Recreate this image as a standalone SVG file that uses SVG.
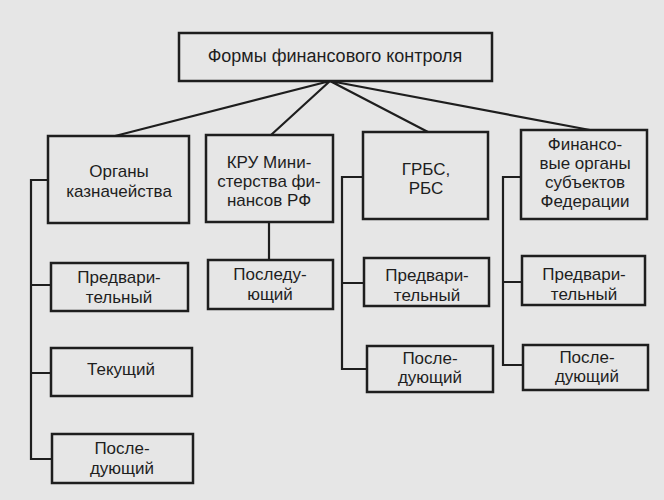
<svg xmlns="http://www.w3.org/2000/svg" width="664" height="500" viewBox="0 0 664 500">
<style>
.bg{fill:#e6e6e6}
.box{fill:none;stroke:#1e1e1e;stroke-width:2.5}
.ln{fill:none;stroke:#1e1e1e;stroke-width:2.2}
text{font-family:"Liberation Sans",Arial,sans-serif;font-size:17px;fill:#1e1e1e;text-anchor:middle}
.t{font-size:18px}
</style>
<rect class="bg" x="0" y="0" width="664" height="500"/>
<g id="connectors">
<path class="ln" d="M330,81 L115,136 M330,81 L271,135 M330,81 L428,132 M330,81 L590,130"/>
<path class="ln" d="M48,180 H31 V459 H52 M31,285 H51 M31,373 H51"/>
<path class="ln" d="M269,222 V260"/>
<path class="ln" d="M363,177 H342 V369 H367 M342,283 H364"/>
<path class="ln" d="M521,177 H503 V365 H523 M503,282 H522"/>
</g>
<g id="root">
<rect class="box" x="179" y="33" width="313" height="48"/>
<text class="t" x="335" y="62">Формы финансового контроля</text>
</g>
<g id="treasury">
<rect class="box" x="48" y="136" width="141" height="87"/>
<text x="119" y="177">Органы</text>
<text x="119" y="197">казначейства</text>
</g>
<g id="kru">
<rect class="box" x="206" y="135" width="127" height="87"/>
<text x="269" y="168">КРУ Мини-</text>
<text x="269" y="187">стерства фи-</text>
<text x="269" y="206">нансов РФ</text>
</g>
<g id="grbs">
<rect class="box" x="363" y="132" width="125" height="87"/>
<text x="426" y="175">ГРБС,</text>
<text x="426" y="194">РБС</text>
</g>
<g id="fin">
<rect class="box" x="521" y="130" width="126" height="89"/>
<text x="585" y="150">Финансо-</text>
<text x="585" y="169">вые органы</text>
<text x="585" y="188">субъектов</text>
<text x="585" y="207">Федерации</text>
</g>
<g id="c1-pre">
<rect class="box" x="51" y="263" width="137" height="48"/>
<text x="119" y="283">Предвари-</text>
<text x="119" y="303">тельный</text>
</g>
<g id="c1-cur">
<rect class="box" x="51" y="348" width="141" height="48"/>
<text x="121" y="375">Текущий</text>
</g>
<g id="c1-post">
<rect class="box" x="52" y="434" width="141" height="49"/>
<text x="122" y="454">После-</text>
<text x="122" y="474">дующий</text>
</g>
<g id="c2-post">
<rect class="box" x="208" y="260" width="125" height="49"/>
<text x="270" y="280">Последу-</text>
<text x="270" y="300">ющий</text>
</g>
<g id="c3-pre">
<rect class="box" x="364" y="258" width="125" height="48"/>
<text x="427" y="281">Предвари-</text>
<text x="427" y="301">тельный</text>
</g>
<g id="c3-post">
<rect class="box" x="367" y="346" width="126" height="46"/>
<text x="430" y="364">После-</text>
<text x="430" y="383">дующий</text>
</g>
<g id="c4-pre">
<rect class="box" x="522" y="256" width="123" height="49"/>
<text x="584" y="280">Предвари-</text>
<text x="584" y="300">тельный</text>
</g>
<g id="c4-post">
<rect class="box" x="523" y="345" width="125" height="45"/>
<text x="587" y="363">После-</text>
<text x="587" y="382">дующий</text>
</g>
</svg>
